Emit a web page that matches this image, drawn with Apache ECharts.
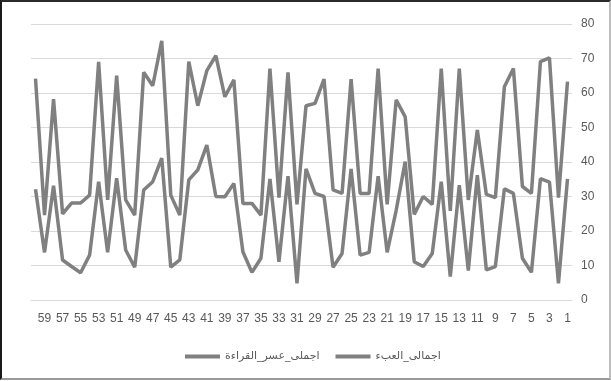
<!DOCTYPE html>
<html>
<head>
<meta charset="utf-8">
<script src="https://cdn.jsdelivr.net/npm/echarts@6/dist/echarts.min.js"></script>
<style>
  html, body { margin: 0; padding: 0; background: #fff; }
  #frame {
    position: absolute; left: 0; top: 0; width: 607px; height: 376px;
    border-left: 2px solid #1a1a1a; border-top: 2px solid #2a2a2a;
    border-right: 2px solid #bdbdbd; border-bottom: 2px solid #9a9a9a;
  }
  #chart { position: absolute; left: 0; top: 0; width: 611px; height: 381px; }
</style>
</head>
<body>
<div id="frame"></div>
<div id="chart"></div>
<script>
(function(){
    'use strict';
    // categories 1..60, x axis runs right to left
    var categories = [];
    for (var i = 1; i <= 60; i++) { categories.push(String(i)); }

    var seriesNames = ['اجملى_عسر_القراءة', 'اجمالى_العبء'];

    // values by category 1..60
    var lowerValues = [35.1, 4.8, 34.2, 35.2, 8, 12.1, 30.9, 32.2, 9.7, 8.7,
                       36.2, 8.5, 33.3, 6.8, 34.3, 13.5, 9.7, 11.1, 40.1, 26,
                       13.8, 35.9, 13.8, 13, 38, 13.5, 9.5, 30, 30.9, 38,
                       4.8, 35.9, 11.1, 35.1, 12.1, 8, 14, 33.8, 29.9, 30,
                       44.9, 37.7, 34.8, 11.6, 9.5, 41.1, 34.3, 31.9, 9.5, 14.5,
                       35.3, 13.8, 34.3, 13, 7.9, 9.7, 11.6, 33.1, 13.8, 32.1];
    var upperValues = [63.3, 29.7, 70.2, 69.1, 30.9, 32.9, 67.1, 61.8, 29.7, 30.6,
                       49.3, 29, 67.1, 25.8, 67.1, 27.7, 30, 24.8, 53.1, 58,
                       27.7, 67.1, 30.9, 30.9, 64, 30.9, 31.9, 64, 57, 56.3,
                       27.7, 66, 29.7, 67.1, 24.6, 28, 28, 63.8, 58.9, 70.8,
                       66.5, 56.3, 69.1, 24.6, 30.4, 75.1, 62.1, 66, 24.6, 29,
                       65, 29, 69, 30.4, 28.1, 28.1, 25, 58.2, 24.6, 64.2];

    var lineColor = '#808080';
    var textColor = '#595959';

    var myChart = echarts.init(document.getElementById('chart'));
    var option = {
        animation: false,
        grid: { left: 31, right: 39, top: 24, bottom: 81 },
        legend: {
            data: seriesNames,
            left: 180,
            top: 346,
            icon: 'rect',
            itemWidth: 35,
            itemHeight: 4,
            itemGap: 16,
            textStyle: { color: textColor, fontSize: 11, fontFamily: 'DejaVu Sans' }
        },
        xAxis: {
            type: 'category',
            data: categories,
            inverse: true,
            axisLine: { lineStyle: { color: '#d9d9d9', width: 1 } },
            axisTick: { show: false },
            axisLabel: {
                interval: 1,
                hideOverlap: false,
                color: textColor,
                fontSize: 12,
                fontFamily: 'Liberation Sans',
                margin: 13
            }
        },
        yAxis: {
            type: 'value',
            position: 'right',
            min: 0,
            max: 80,
            interval: 10,
            axisLine: { show: false },
            axisTick: { show: false },
            axisLabel: { color: textColor, fontSize: 12, fontFamily: 'Liberation Sans', margin: 9 },
            splitLine: { lineStyle: { color: '#d9d9d9', width: 1 } }
        },
        series: [
            {
                name: seriesNames[0],
                type: 'line',
                data: lowerValues,
                symbol: 'none',
                color: lineColor,
                lineStyle: { color: lineColor, width: 3.5 }
            },
            {
                name: seriesNames[1],
                type: 'line',
                data: upperValues,
                symbol: 'none',
                color: lineColor,
                lineStyle: { color: lineColor, width: 3.5 }
            }
        ]
    };
    myChart.setOption(option);
})();
</script>
</body>
</html>
